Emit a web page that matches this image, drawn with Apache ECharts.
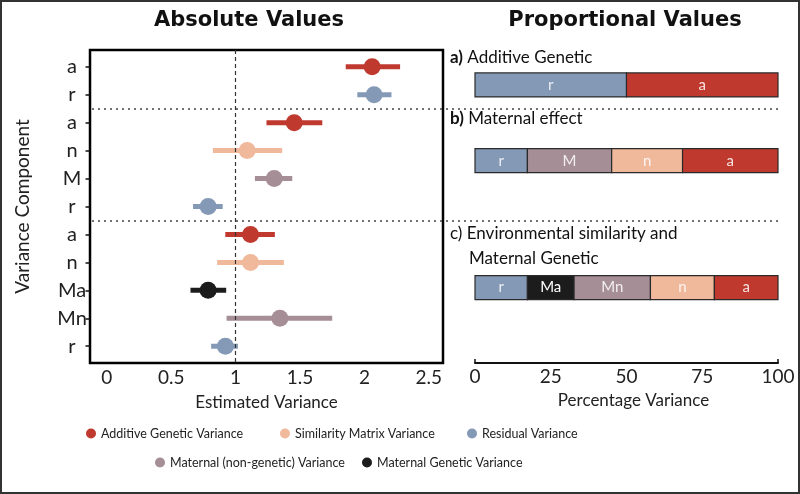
<!DOCTYPE html>
<html><head><meta charset="utf-8">
<script src="https://cdn.jsdelivr.net/npm/echarts@6/dist/echarts.min.js"></script>
<style>html,body{margin:0;padding:0;background:#fff}#c{width:800px;height:494px;box-sizing:border-box;border:2px solid #333;}</style>
</head><body><div id="c"></div>
<script>
// ---- data ----
const rowLabels = ['a','r','a','n','M','r','a','n','Ma','Mn','r'];
const rowGroup  = ['add','res','add','sim','mat','res','add','sim','mg','mat','res'];
const estimate  = [2.06,2.075,1.455,1.09,1.30,0.787,1.116,1.116,0.787,1.344,0.921];
const lower     = [1.855,1.945,1.24,0.824,1.15,0.67,0.92,0.857,0.65,0.93,0.81];
const upper     = [2.277,2.21,1.673,1.362,1.44,0.90,1.305,1.375,0.927,1.75,1.018];
const xTicks = [0,0.5,1,1.5,2,2.5];
const pctTicks = [0,25,50,75,100];
const separators = [1.5,5.5];
const groups = [
  {key:'add', name:'Additive Genetic Variance', color:'#c0392f'},
  {key:'sim', name:'Similarity Matrix Variance', color:'#f0b99c'},
  {key:'res', name:'Residual Variance', color:'#8499b6'},
  {key:'mat', name:'Maternal (non-genetic) Variance', color:'#a68e97'},
  {key:'mg',  name:'Maternal Genetic Variance', color:'#1c1c1c'}
];
// proportional bars: position on the row axis, segment labels, groups, percentages
const barRows   = [0.65, 3.36, 7.9];
const barLabels = [['r','a'],['r','M','n','a'],['r','Ma','Mn','n','a']];
const barGroups = [['res','add'],['res','mat','sim','add'],['res','mg','mat','sim','add']];
const barPct    = [[50,50],[17.3,27.8,23.4,31.5],[17.3,15.4,25.2,21.1,21.0]];

const colorOf = k => groups.find(g=>g.key===k).color;
const FONT = 'Lato';
const chart = echarts.init(document.getElementById('c'), null, {renderer:'canvas'});

const yBase = {type:'value', inverse:true, min:-0.6, max:10.6, splitLine:{show:false}};

const scatterSeries = groups.map(g => ({
  type:'scatter', name:g.name, xAxisIndex:0, yAxisIndex:0, symbolSize:17, z:5,
  itemStyle:{color:g.color, opacity:1},
  data: estimate.map((v,i)=> rowGroup[i]===g.key ? [v,i] : null).filter(d=>d)
}));

// stacked segments
const segData = [];
barPct.forEach((arr,bi)=>{ let s=0; arr.forEach((p,si)=>{ segData.push([s, s+p, barRows[bi], bi, si]); s+=p; }); });

const option = {
  animation:false,
  textStyle:{fontFamily:FONT},
  grid:[
    {left:88, top:48, width:353, height:313, show:true, borderColor:'#000', borderWidth:2.5, backgroundColor:'transparent'},
    {left:473, top:48, width:303, height:313},
    {left:90, top:48, width:686, height:313}
  ],
  xAxis:[
    {gridIndex:0, type:'value', min:-0.13, max:2.61, splitLine:{show:false}, position:'bottom',
     axisLine:{show:false, onZero:false}, axisTick:{show:false},
     axisLabel:{customValues:xTicks, fontSize:19, color:'#222', margin:5, fontFamily:FONT},
     name:'Estimated Variance', nameLocation:'middle', nameGap:31,
     nameTextStyle:{fontSize:17, color:'#222', fontFamily:FONT}},
    {gridIndex:1, type:'value', min:0, max:100, interval:25, splitLine:{show:false}, position:'bottom',
     axisLine:{show:true, onZero:false, lineStyle:{color:'#111', width:2}},
     axisTick:{show:true, inside:true, length:4, lineStyle:{color:'#111', width:1.5}, customValues:[0,100]},
     axisLabel:{customValues:pctTicks, fontSize:19, color:'#222', margin:4, fontFamily:FONT},
     name:'Percentage Variance', nameLocation:'middle', nameGap:29,
     nameTextStyle:{fontSize:17, color:'#222', fontFamily:FONT, padding:[0,0,0,14]}},
    {gridIndex:2, type:'value', min:0, max:1, show:false}
  ],
  yAxis:[
    Object.assign({gridIndex:0, position:'left', axisLine:{show:false, onZero:false},
      axisTick:{show:true, customValues:rowLabels.map((_,i)=>i), length:4.5, lineStyle:{color:'#111', width:1.5}},
      axisLabel:{customValues:rowLabels.map((_,i)=>i), formatter:v=>rowLabels[Math.round(v)], fontSize:20, color:'#222', margin:18, align:'center', fontFamily:FONT},
      name:'Variance Component', nameLocation:'middle', nameGap:58, nameRotate:90,
      nameTextStyle:{fontSize:19, color:'#222', fontFamily:FONT}}, yBase),
    Object.assign({gridIndex:1, show:false}, yBase),
    Object.assign({gridIndex:2, show:false}, yBase)
  ],
  legend: groups.map((g,i)=>{
    const pos = [[79,420],[273,420],[460,420],[148,449],[355,449]][i];
    return {data:[g.name], left:pos[0], top:pos[1], icon:'circle', itemWidth:10, itemHeight:10, itemGap:0,
      textStyle:{fontSize:12.5, color:'#222', fontFamily:FONT}, selectedMode:false};
  }),
  graphic:[
    {type:'text', x:247, y:19, style:{text:'Absolute Values', font:'bold 21px "DejaVu Sans"', fill:'#111', align:'center', verticalAlign:'middle'}},
    {type:'text', x:623, y:19, style:{text:'Proportional Values', font:'bold 21px "DejaVu Sans"', fill:'#111', align:'center', verticalAlign:'middle'}},
    {type:'text', x:448, y:56, style:{text:'{b|a)} Additive Genetic', verticalAlign:'middle', fill:'#111',
      rich:{b:{fontWeight:'bold', fontSize:17, fontFamily:FONT, fill:'#111'}}, font:'17px Lato'}},
    {type:'text', x:448, y:117, style:{text:'{b|b)} Maternal effect', verticalAlign:'middle', fill:'#111',
      rich:{b:{fontWeight:'bold', fontSize:17, fontFamily:FONT, fill:'#111'}}, font:'17px Lato'}},
    {type:'text', x:448, y:232, style:{text:'c) Environmental similarity and', verticalAlign:'middle', fill:'#111', font:'17px Lato'}},
    {type:'text', x:467, y:257, style:{text:'Maternal Genetic', verticalAlign:'middle', fill:'#111', font:'17px Lato'}}
  ],
  series:[
    {type:'custom', name:'errbars', xAxisIndex:0, yAxisIndex:0, z:3,
     data: estimate.map((v,i)=>[lower[i], upper[i], i]),
     renderItem:(params, api)=>{
       const a = api.coord([api.value(0), api.value(2)]);
       const b = api.coord([api.value(1), api.value(2)]);
       const idx = params.dataIndex;
       return {type:'line', shape:{x1:a[0], y1:a[1], x2:b[0], y2:b[1]},
         style:{stroke:colorOf(rowGroup[idx]), lineWidth:5}};
     },
     markLine:{silent:true, symbol:'none', label:{show:false},
       lineStyle:{type:[4,3], color:'#333', width:1.2}, data:[{xAxis:1}]}},
    ...scatterSeries,
    {type:'custom', name:'bars', xAxisIndex:1, yAxisIndex:1, z:4,
     data: segData,
     renderItem:(params, api)=>{
       const p0 = api.coord([api.value(0), api.value(2)]);
       const p1 = api.coord([api.value(1), api.value(2)]);
       const h = api.size([0, 0.86])[1];
       const bi = api.value(3), si = api.value(4);
       const g = barGroups[bi][si];
       const light = g!=='mg';
       return {type:'rect', shape:{x:p0[0], y:p0[1]-h/2, width:p1[0]-p0[0], height:h},
         style:{fill:colorOf(g), stroke:'#2a2a2a', lineWidth:1.2},
         textContent:{style:{text:barLabels[bi][si], fill: light?'rgba(255,255,255,0.85)':'#fff', font:'15px Lato'}},
         textConfig:{position:'inside'}};
     }},
    {type:'line', xAxisIndex:2, yAxisIndex:2, data:[], silent:true,
     markLine:{silent:true, symbol:'none', label:{show:false},
       lineStyle:{type:[2,4], color:'#444', width:1.5},
       data: separators.map(s=>({yAxis:s}))}}
  ]
};
chart.setOption(option);
</script></body></html>
